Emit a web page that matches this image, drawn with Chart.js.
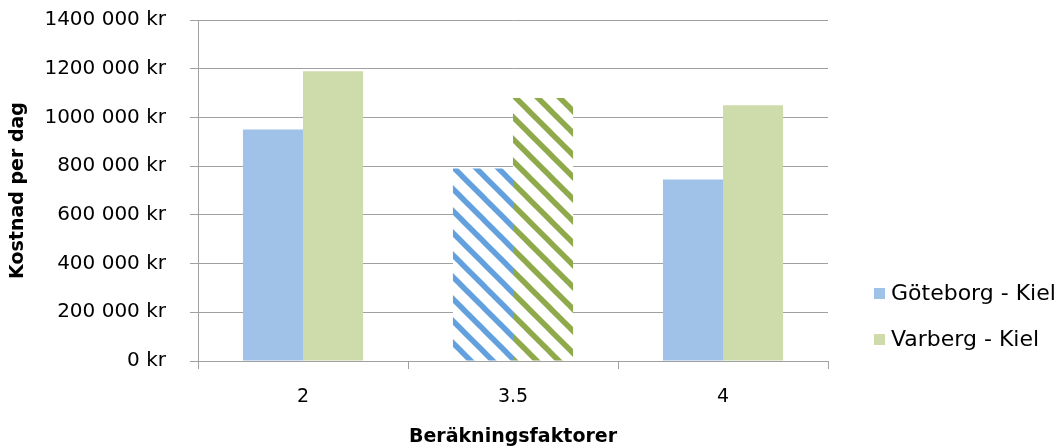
<!DOCTYPE html>
<html>
<head>
<meta charset="utf-8">
<script src="https://cdn.jsdelivr.net/npm/chart.js@4/dist/chart.umd.min.js"></script>
<style>
  html, body { margin: 0; padding: 0; background: #fff; }
  #wrap { width: 1061px; height: 448px; }
</style>
</head>
<body>
<div id="wrap"><canvas id="c" width="1061" height="448"></canvas></div>
<script>
// Beräkningsfaktorer on the x axis
const categories = ['2', '3.5', '4'];
// Kostnad per dag (kr)
const goteborgKiel = [950000, 790000, 745000];
const varbergKiel = [1190000, 1080000, 1050000];
// Category drawn with a striped fill
const stripedCategories = ['3.5'];
// y axis ticks
const yMin = 0, yMax = 1400000, yStep = 200000;

const FONT = "'DejaVu Sans', 'Open Sans', sans-serif";

function stripes(color) {
  const s = 22;
  const cv = document.createElement('canvas');
  cv.width = s; cv.height = s;
  const g = cv.getContext('2d');
  g.fillStyle = '#ffffff';
  g.fillRect(0, 0, s, s);
  g.strokeStyle = color;
  g.lineWidth = 5.5;
  g.lineCap = 'square';
  for (let k = -1; k <= 1; k++) {
    g.beginPath();
    g.moveTo(k * s - 2, -2);
    g.lineTo(k * s + s + 2, s + 2);
    g.stroke();
  }
  return g.createPattern(cv, 'repeat');
}

const series = [
  { label: 'Göteborg - Kiel', data: goteborgKiel, solid: '#a0c2e9', stripe: '#62a1dd' },
  { label: 'Varberg - Kiel', data: varbergKiel, solid: '#cedcab', stripe: '#8eaa4a' }
];

const datasets = series.map(s => {
  const pat = stripes(s.stripe);
  return {
    label: s.label,
    data: s.data,
    backgroundColor: categories.map(c => stripedCategories.includes(c) ? pat : s.solid),
    legendColor: s.solid,
    borderWidth: 0,
    categoryPercentage: 0.572,
    barPercentage: 1.0
  };
});

function formatKr(v) {
  if (v === 0) return '0 kr';
  return Math.round(v / 1000) + ' 000 kr';
}

// Legend at the right, drawn from the dataset labels and colours
const sideLegend = {
  id: 'sideLegend',
  afterDraw(chart) {
    const ctx = chart.ctx;
    ctx.save();
    ctx.font = "22px " + FONT;
    ctx.textBaseline = 'middle';
    const x0 = 874, rows = [294, 340];
    chart.data.datasets.forEach((ds, i) => {
      const y = rows[i];
      ctx.fillStyle = ds.legendColor;
      ctx.fillRect(x0, y - 6, 11, 11);
      ctx.fillStyle = '#000';
      ctx.fillText(ds.label, x0 + 17, y);
    });
    ctx.restore();
  }
};

new Chart(document.getElementById('c'), {
  type: 'bar',
  data: { labels: categories, datasets },
  options: {
    responsive: false,
    animation: false,
    devicePixelRatio: 1,
    layout: { padding: { left: 0, right: 233, top: 20, bottom: 0 } },
    plugins: { legend: { display: false }, tooltip: { enabled: false } },
    scales: {
      x: {
        grid: { display: true, drawOnChartArea: false, drawTicks: true, tickLength: 8, color: '#a0a0a0', offset: true },
        border: { display: true, color: '#a0a0a0', width: 1 },
        ticks: { color: '#000', font: { family: FONT, size: 19 }, padding: 17 },
        title: { display: true, text: 'Beräkningsfaktorer', color: '#000', font: { family: FONT, size: 19, weight: 'bold' }, padding: { top: 10, bottom: 0 } },
        afterFit(scale) { scale.height = 87; scale.paddingLeft = 0; scale.paddingRight = 0; }
      },
      y: {
        min: yMin, max: yMax,
        ticks: { stepSize: yStep, color: '#000', font: { family: FONT, size: 20 }, padding: 24, callback: v => formatKr(v) },
        grid: { color: '#a0a0a0', lineWidth: 1, drawTicks: true, tickLength: 8 },
        border: { display: true, color: '#a0a0a0', width: 1 },
        title: { display: true, text: 'Kostnad per dag', color: '#000', font: { family: FONT, size: 19, weight: 'bold' }, padding: { top: 7, bottom: 0 } },
        afterFit(scale) { scale.width = 198; scale.paddingTop = 0; scale.paddingBottom = 0; }
      }
    }
  },
  plugins: [sideLegend]
});
</script>
</body>
</html>
